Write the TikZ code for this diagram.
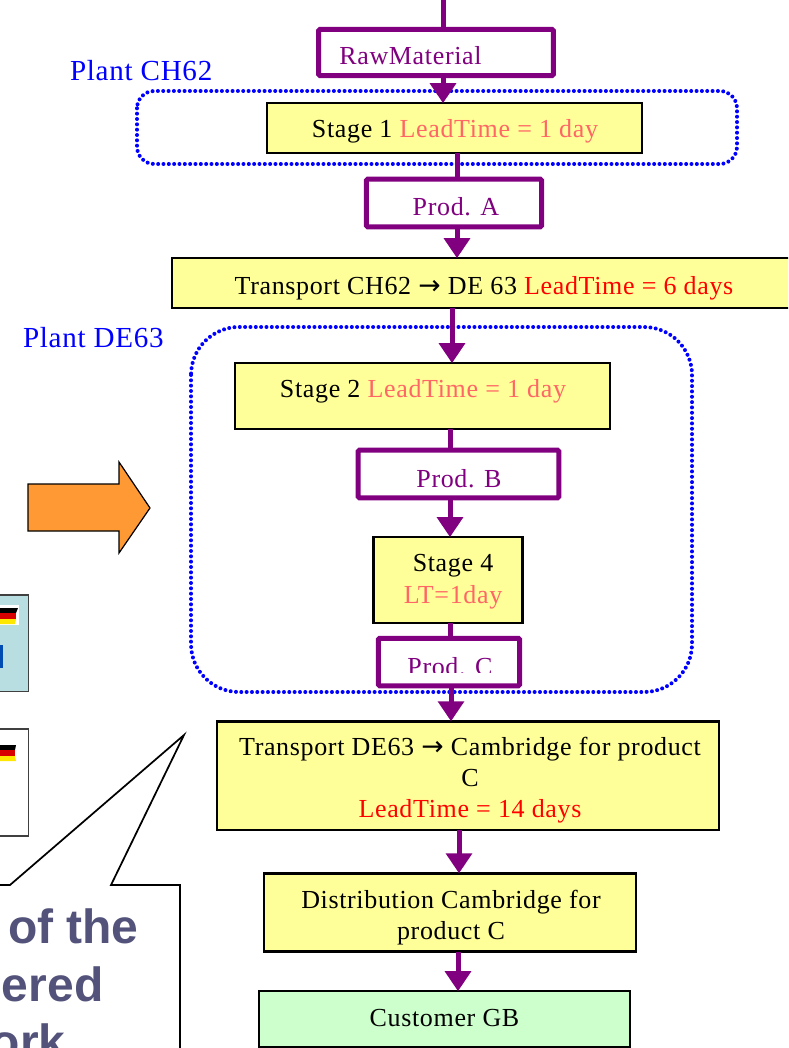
\documentclass[tikz,border=0pt]{standalone}
\usepackage{fontspec}
\setmainfont[LetterSpace=2.5]{Liberation Serif}
\newfontfamily\arrowfont{DejaVu Sans}
\newfontfamily\calloutfont{Liberation Sans}
\usetikzlibrary{arrows.meta}
\definecolor{boxyellow}{HTML}{FFFF99}
\definecolor{boxgreen}{HTML}{CCFFCC}
\definecolor{prodpurple}{HTML}{800080}
\definecolor{softred}{HTML}{FF6666}
\definecolor{callouttext}{HTML}{52527A}
\definecolor{panelblue}{HTML}{B8DEE2}
\definecolor{bigarrow}{HTML}{FF9933}
\newcommand{\rarrow}{{\arrowfont\fontsize{20pt}{20pt}\selectfont →}}
\tikzset{
  x=0.75pt,y=-0.75pt,
  every node/.style={font=\fontsize{19.5pt}{23.25pt}\selectfont,inner sep=0pt,outer sep=0pt,align=center},
  stagebox/.style={draw=black,line width=1.8pt,fill=boxyellow},
  custbox/.style={draw=black,line width=1.5pt,fill=boxgreen},
  prodbox/.style={draw=prodpurple,line width=3.75pt,fill=white,rounded corners=1pt,text=prodpurple},
  flow/.style={draw=prodpurple,line width=3.75pt},
  flowhead/.style={flow,-{Triangle[length=15pt,width=19pt]}},
  plantbox/.style={draw=blue,line width=3pt,line cap=round,dash pattern=on 0pt off 4pt},
  plantlabel/.style={text=blue,anchor=west,font=\fontsize{21.8pt}{24pt}\selectfont},
  panel/.style={draw=black!75,line width=0.9pt},
  callouttxt/.style={text=callouttext,anchor=base west,font=\calloutfont\bfseries\fontsize{36pt}{38pt}\selectfont},
}
\begin{document}
\begin{tikzpicture}
\useasboundingbox (0,0) rectangle (788,1048);
\clip (0,0) rectangle (788,1048);

% cropped panels at the left edge
\node[panel,fill=panelblue,minimum width=48bp,minimum height=72bp,anchor=north east] (panela) at (28.5,595) {};
\node[panel,fill=white,minimum width=48bp,minimum height=80bp,anchor=north east] (panelb) at (28.5,729) {};
\fill[white] (0,605) rectangle (19,625);
\fill[black] (0,608) -- (18,608) -- (16,613) -- (0,613) -- cycle;
\fill[red!85!black] (0,613) -- (16,613) -- (16,619) -- (0,619) -- cycle;
\fill[yellow!90!orange] (0,619) -- (16,619) -- (15,624) -- (0,624) -- cycle;
\fill[blue!40!teal] (0,645) rectangle (3,668);
\fill[black] (0,745) -- (16,745) -- (15,750) -- (0,750) -- cycle;
\fill[red!85!black] (0,750) -- (15,750) -- (15,756) -- (0,756) -- cycle;
\fill[yellow!90!orange] (0,756) -- (15,756) -- (16,761) -- (0,761) -- cycle;

% callout
\draw[black,line width=1.3pt,fill=white] (-10,885) -- (10,885) -- (184,735) -- (111,885) -- (180,885) -- (180,1060) -- (-10,1060);
\node[callouttxt] (cta) at (8,943) {of the};
\node[callouttxt] (ctb) at (2,1001) {ered};
\node[callouttxt] (ctc) at (-9,1058) {ork};

% big arrow
\draw[black,line width=0.9pt,fill=bigarrow,line join=miter] (28,484) -- (119,484) -- (119,462) -- (150,508) -- (119,553) -- (119,531) -- (28,531) -- cycle;

% plant frames
\draw[plantbox,rounded corners=13pt] (137,91) rectangle (737,164);
\draw[plantbox,rounded corners=36pt] (191,327) rectangle (692,692);
\node[plantlabel] (plantch) at (70,71) {Plant CH62};
\node[plantlabel] (plantde) at (23,338) {Plant DE63};

% column x positions of the flow lines
\coordinate (top) at (443,0);
\coordinate (xb) at (457,0);
\coordinate (xc) at (452,0);
\coordinate (xd) at (450,0);
\coordinate (xe) at (451,0);
\coordinate (xf) at (459,0);
\coordinate (xg) at (458,0);

% boxes
\node[prodbox,minimum width=175.5bp,minimum height=34.5bp] (raw) at (436,52.5) {};
\node[prodbox,minimum width=131bp,minimum height=35.5bp] (proda) at (454,203) {};
\node[stagebox,minimum width=280bp,minimum height=37bp] (stage1) at (454.5,128) {};
\node[stagebox,minimum width=468bp,minimum height=37bp] (trans1) at (485,283) {};
\node[stagebox,minimum width=280bp,minimum height=49bp] (stage2) at (422.5,396) {};
\node[prodbox,minimum width=150bp,minimum height=35.5bp] (prodb) at (458.5,474) {};
\node[stagebox,minimum width=111.5bp,minimum height=64bp] (stage4) at (448,580) {};
\node[prodbox,minimum width=105.5bp,minimum height=35.5bp] (prodc) at (449,662) {};
\node[stagebox,minimum width=375.5bp,minimum height=81bp] (trans2) at (468,775.5) {};
\node[stagebox,minimum width=278bp,minimum height=58.5bp] (dist) at (450,912.5) {};
\node[custbox,minimum width=277bp,minimum height=41.5bp] (cust) at (444.5,1019) {};

% box texts
\node[text=prodpurple] (rawt) at (410.5,56) {RawMaterial};
\node (stage1t) at (455,131) {Stage 1 \textcolor{softred}{LeadTime = 1 day}};
\node[text=prodpurple] (prodat) at (456,207) {Prod. A};
\node (trans1t) at (484,288) {Transport CH62 \rarrow{} DE 63 \textcolor{red}{LeadTime = 6 days}};
\node (stage2t) at (423,391) {Stage 2 \textcolor{softred}{LeadTime = 1 day}};
\node[text=prodpurple] (prodbt) at (459,479) {Prod. B};
\node (stage4t) at (453,581.5) {Stage 4\\[0.5pt]\textcolor{softred}{LT=1day}};
\begin{scope}
\clip (370,640) rectangle (530,672);
\node[text=prodpurple] (prodct) at (450,667) {Prod. C};
\end{scope}
\node (trans2t) at (470,780) {Transport DE63 \rarrow{} Cambridge for product\\C\\\textcolor{red}{LeadTime = 14 days}};
\node (distt) at (451,917.5) {Distribution Cambridge for\\product C};
\node (custt) at (444.5,1018) {Customer GB};

% connectors
\draw[flow] (top) -- (raw.north -| top);
\draw[flowhead] (raw.south -| top) -- (stage1.north -| top);
\draw[flow] (stage1.south -| xb) -- (proda.north -| xb);
\draw[flowhead] (proda.south -| xb) -- (trans1.north -| xb);
\draw[flowhead] (trans1.south -| xc) -- (stage2.north -| xc);
\draw[flow] (stage2.south -| xd) -- (prodb.north -| xd);
\draw[flowhead] (prodb.south -| xd) -- (stage4.north -| xd);
\draw[flow] (stage4.south -| xd) -- (prodc.north -| xd);
\draw[flowhead] (prodc.south -| xe) -- (trans2.north -| xe);
\draw[flowhead] (trans2.south -| xf) -- (dist.north -| xf);
\draw[flowhead] (dist.south -| xg) -- (cust.north -| xg);
\end{tikzpicture}
\end{document}
